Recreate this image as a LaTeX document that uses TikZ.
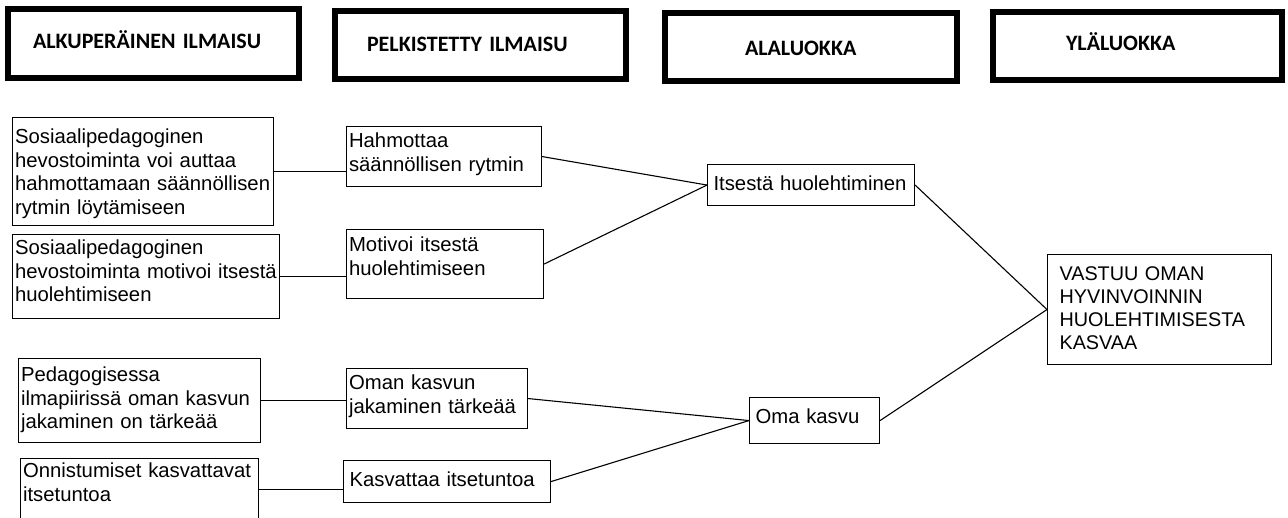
\documentclass[tikz,border=0pt]{standalone}
\usepackage{fontspec}
\setmainfont{Liberation Sans}
\newfontfamily\headfont{Carlito}

\begin{document}
\begin{tikzpicture}[x=1pt,y=-1pt]
	\tikzstyle{head}=[rectangle,draw,line width=6pt,anchor=north west,align=left,inner ysep=0pt,font=\headfont\bfseries\fontsize{22}{26}\selectfont]
	\tikzstyle{box}=[rectangle,draw,line width=1.1pt,anchor=north west,align=left,inner xsep=2.5pt,inner ysep=0pt,font=\fontsize{20.3}{23.5}\selectfont]
	\tikzstyle{link}=[line width=1.1pt]
	\useasboundingbox (0,0) rectangle (1288,517);
	% column headings
	\node (alku) at (5,6) [head,inner xsep=25pt,text width=241pt,text height=39pt,text depth=30pt] {ALKUPERÄINEN ILMAISU};
	\node (pelk) at (332,8) [head,inner xsep=32pt,text width=227pt,text height=40pt,text depth=28pt] {PELKISTETTY ILMAISU};
	\node (ala) at (662,10) [head,inner xsep=80pt,text width=132pt,text height=42pt,text depth=26pt] {ALALUOKKA};
	\node (yla) at (990,9) [head,inner xsep=73pt,text width=143pt,text height=38pt,text depth=30pt] {YLÄLUOKKA};
	% original expressions
	\node (alku1) at (12,117) [box,text width=256pt,text height=26pt,text depth=82pt] {Sosiaalipedagoginen\\hevostoiminta voi auttaa\\hahmottamaan säännöllisen\\rytmin löytämiseen};
	\node (alku2) at (12,234) [box,text width=262pt,text height=20pt,text depth=64pt] {Sosiaalipedagoginen\\hevostoiminta motivoi itsestä\\huolehtimiseen};
	\node (alku3) at (18,358) [box,text width=237pt,text height=23pt,text depth=61pt] {Pedagogisessa\\ilmapiirissä oman kasvun\\jakaminen on tärkeää};
	\node (alku4) at (20,458) [box,text width=233pt,text height=19pt,text depth=43pt] {Onnistumiset kasvattavat\\itsetuntoa};
	% reduced expressions
	\node (pelk1) at (346,126) [box,text width=190pt,text height=21pt,text depth=39pt] {Hahmottaa\\säännöllisen rytmin};
	\node (pelk2) at (346,229) [box,text width=192pt,text height=22pt,text depth=47pt] {Motivoi itsestä\\huolehtimiseen};
	\node (pelk3) at (346,368) [box,text width=176pt,text height=21pt,text depth=39pt] {Oman kasvun\\jakaminen tärkeää};
	\node (pelk4) at (343,460) [box,inner xsep=6pt,text width=195pt,text height=26pt,text depth=16pt] {Kasvattaa itsetuntoa};
	% sub-categories
	\node (ala1) at (707,164) [box,inner xsep=6pt,text width=195pt,text height=26pt,text depth=15pt] {Itsestä huolehtiminen};
	\node (ala2) at (749,397) [box,inner xsep=6pt,text width=118pt,text height=26pt,text depth=20pt] {Oma kasvu};
	% main category
	\node (yla1) at (1047,254) [box,inner xsep=12pt,text width=200pt,text height=26pt,text depth=84pt,font=\fontsize{19.8}{23}\selectfont] {VASTUU OMAN\\HYVINVOINNIN\\HUOLEHTIMISESTA\\KASVAA};
	% links
	\draw [link] (alku1.east) -- (alku1.east -| pelk1.west);
	\draw [link] (alku2.east) -- (alku2.east -| pelk2.west);
	\draw [link] (alku3.east) -- (alku3.east -| pelk3.west);
	\draw [link] (alku4.east) -- (alku4.east -| pelk4.west);
	\draw [link] (pelk1.east) -- (ala1.west);
	\draw [link] (pelk2.east) -- (ala1.west);
	\draw [link] (pelk3.east) -- (ala2.west);
	\draw [link] (pelk4.east) -- (ala2.west);
	\draw [link] (ala1.east) -- (yla1.west);
	\draw [link] (ala2.east) -- (yla1.west);
\end{tikzpicture}
\end{document}
